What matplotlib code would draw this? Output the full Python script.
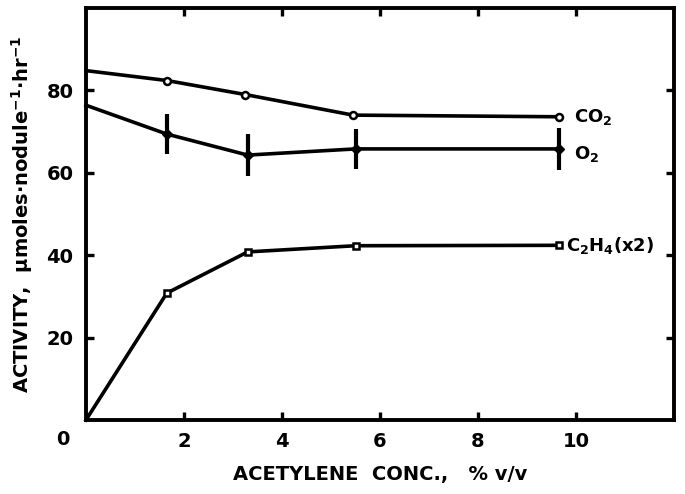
import matplotlib
matplotlib.use("Agg")
import matplotlib.pyplot as plt

# Data
conc_co2 = [0.0, 1.65, 3.25, 5.45, 9.65]
co2 = [84.8, 82.4, 79.0, 74.0, 73.6]

conc_o2 = [0.0, 1.65, 3.3, 5.5, 9.65]
o2 = [76.4, 69.4, 64.3, 65.8, 65.8]
o2_err = [0.0, 4.8, 5.0, 4.8, 5.0]

conc_c2h4 = [0.0, 1.65, 3.3, 5.5, 9.65]
c2h4 = [0.0, 30.8, 40.8, 42.3, 42.4]

xticks = [2, 4, 6, 8, 10]
yticks = [20, 40, 60, 80]

plt.rcParams['font.family'] = ['DejaVu Sans']
plt.rcParams['font.weight'] = 'bold'

fig = plt.figure(figsize=(6.85, 4.94), dpi=100)
ax = fig.add_axes([0.1255, 0.1498, 0.8585, 0.834])

lw = 2.6
ax.plot(conc_co2, co2, '-', color='black', lw=lw, marker='o', ms=5,
        mfc='white', mec='black', mew=1.8, markevery=slice(1, None),
        clip_on=False, zorder=3)
ax.errorbar(conc_o2, o2, yerr=o2_err, fmt='-', color='black', lw=lw,
            elinewidth=3.0, capsize=0, marker='D', ms=5, mfc='black',
            mec='black', markevery=slice(1, None), clip_on=False, zorder=3)
ax.plot(conc_c2h4, c2h4, '-', color='black', lw=lw, marker='s', ms=4.5,
        mfc='white', mec='black', mew=1.8, markevery=slice(1, None),
        clip_on=False, zorder=3)

ax.set_xlim(0, 12)
ax.set_ylim(0, 100)
ax.set_xticks(xticks)
ax.set_yticks(yticks)
ax.set_xticklabels([str(t) for t in xticks], fontsize=14, fontweight='bold')
ax.set_yticklabels([str(t) for t in yticks], fontsize=14, fontweight='bold')
ax.tick_params(direction='in', length=6, width=2.4, top=True, right=True,
               pad=9)
for s in ax.spines.values():
    s.set_linewidth(2.8)

ax.text(-0.028, -0.025, '0', transform=ax.transAxes, ha='right', va='top',
        fontsize=14, fontweight='bold')

ax.text(9.95, 73.6, 'CO$_\\mathbf{2}$', ha='left', va='center', fontsize=13,
        fontweight='bold')
ax.text(9.95, 64.5, 'O$_\\mathbf{2}$', ha='left', va='center', fontsize=13,
        fontweight='bold')
ax.text(9.8, 42.4, 'C$_\\mathbf{2}$H$_\\mathbf{4}$(x2)', ha='left', va='center',
        fontsize=13, fontweight='bold')

ax.set_xlabel('ACETYLENE  CONC.,   % v/v', fontsize=14, fontweight='bold',
              labelpad=10)
ax.set_ylabel('ACTIVITY,  $\\mathbf{\\mu}$moles$\\cdot$nodule$^{\\mathbf{-1}}$$\\cdot$hr$^{\\mathbf{-1}}$',
              fontsize=14, fontweight='bold', labelpad=8)

fig.savefig('out.png', dpi=100)
